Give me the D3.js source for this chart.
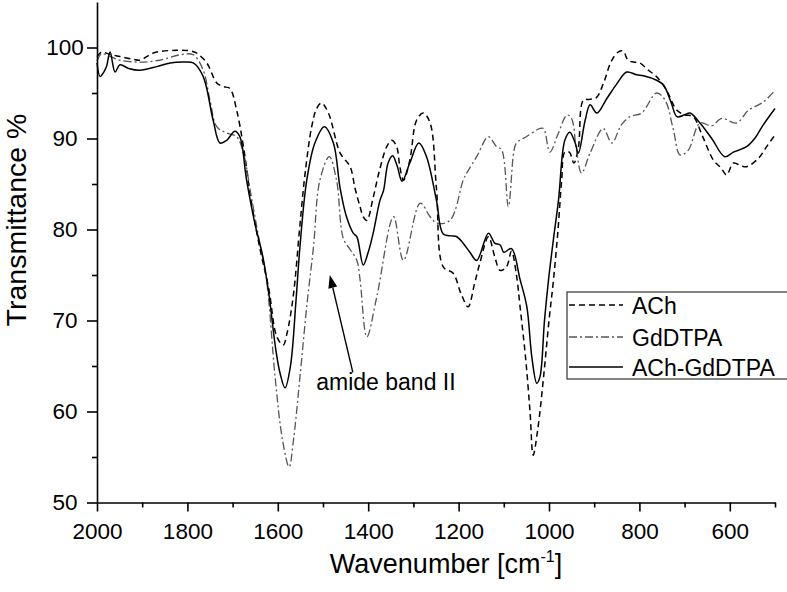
<!DOCTYPE html>
<html>
<head>
<meta charset="utf-8">
<script src="https://cdn.jsdelivr.net/npm/d3@7"></script>
<style>
  body { margin: 0; background: #fff; }
  svg text { font-family: Arial, "Liberation Sans", sans-serif; fill: #000; }
</style>
</head>
<body>
<div class="chart"></div>
<script>
//Spectra (wavenumber in cm-1, transmittance in %)
var achWn = [2000,1990,1975,1949,1920,1905,1875,1824,1790,1780,1757,1735,1720,1706,1691,1676,1660,1640,1620,1602,1588,1580,1566,1551,1540,1525,1514,1503,1488,1462,1440,1429,1418,1411,1403,1389,1375,1359,1348,1337,1330,1322,1308,1293,1278,1263,1249,1234,1212,1195,1179,1165,1153,1134,1120,1108,1094,1083,1072,1064,1052,1042,1035,1025,1012,1000,990,980,972,965,955,945,935,924,910,895,880,862,847,836,825,813,799,780,762,740,717,700,681,660,636,620,607,592,575,563,537,520,500];
var achT = [99.0,99.5,99.3,99.0,98.7,98.6,99.4,99.7,99.6,99.4,98.3,96.1,95.7,95.5,93.1,89.1,83.5,78,73.5,68.2,67.3,68.5,72.6,80.5,86,91.3,93.3,93.9,92.8,88.4,86.9,84.5,82.5,81.4,81.0,83.5,86.5,89.1,89.8,89.1,86.9,85.4,87.6,92.0,92.8,91.7,84.5,75.9,75.2,73,71.5,74,76.3,79.2,77,75.5,75.9,77.6,75,71.5,66,60,55.2,58,63.8,70,74.5,80,85.4,88.5,88.5,87.3,89,94.2,94.3,94.5,96,98.5,99.5,99.6,98.6,98.4,98.3,97.5,96.8,95.3,93.1,92.6,92.4,90.2,87.6,86.8,86.0,87.3,87,86.9,87.8,89,90.4];

var gdWn = [2000,1990,1970,1949,1905,1861,1816,1787,1765,1750,1735,1713,1691,1676,1660,1640,1625,1606,1590,1575,1565,1551,1535,1521,1507,1486,1470,1455,1440,1425,1418,1403,1381,1344,1322,1285,1263,1248,1219,1190,1182,1160,1134,1116,1105,1090,1078,1072,1050,1020,1012,998,980,960,950,940,928,909,880,861,840,821,795,762,743,725,710,692,666,640,618,585,559,526,500];
var gdT = [98.5,99.3,99.0,98.6,98.4,98.6,99.2,99.2,97.5,94.2,91.3,90.6,90.2,88.4,84,78.5,74.5,63.8,57,53.9,57,63.8,72,78.1,85.4,88.0,85.4,79,77.8,76.6,74.5,68.2,72.6,81.4,76.6,82.9,81.4,80.7,81.0,85.4,86.2,88,90.2,89.1,88.8,82.5,88.5,89.5,90.2,91.1,91.1,88.5,90.5,92.6,92.2,89,86.2,88.4,91.1,89.5,91.5,92.4,92.8,95,94.2,91,88.2,88.7,91.7,91.4,92.2,91.7,93.1,94,95.3];

var mixWn = [2000,1993,1985,1979,1971,1960,1949,1930,1905,1868,1838,1809,1787,1765,1743,1728,1713,1695,1684,1669,1650,1633,1620,1605,1595,1584,1572,1560,1551,1536,1518,1497,1477,1462,1448,1433,1425,1411,1400,1389,1374,1366,1356,1346,1336,1325,1308,1288,1271,1249,1234,1215,1204,1190,1175,1160,1134,1120,1108,1100,1083,1064,1049,1038,1027,1020,1010,1001,990,979,965,954,942,935,920,909,894,872,850,828,806,791,762,747,730,717,700,688,666,640,611,592,563,545,526,500];
var mixT = [98.3,96.8,97.3,97.9,99.5,97.3,98.1,97.7,97.5,97.9,98.3,98.4,98.3,96.8,92.0,89.5,89.8,90.8,90.2,85.4,80.5,77,73,67,64.2,62.6,65,72,78.1,85.4,89.5,91.3,89.5,84.5,81.4,79.6,79.2,76.1,77.5,79.6,83.2,84.3,87.3,88.1,87,85.3,87.3,89.5,88.0,83.2,79.5,79.3,79.2,78.5,77.5,76.6,79.6,78.5,78.3,77.5,77.9,74.5,71.5,66,63.1,63.8,70,74.5,79,83.2,89.8,90.7,89.5,88.4,92,93.7,92.8,94.4,96,97.3,97.0,96.9,96.4,95.9,94,92.4,92.6,92.8,91.7,90,88.0,88.5,89.1,90,91.5,93.3];

var seriesNames = ["ACh", "GdDTPA", "ACh-GdDTPA"];
var xMajor = [2000,1800,1600,1400,1200,1000,800,600];
var xMinor = [1900,1700,1500,1300,1100,900,700,500];
var yMajor = [50,60,70,80,90,100];
var yMinor = [55,65,75,85,95];

function init(){
  var w = 787;
  var h = 592;

  var svg = d3.select(".chart")
              .append("svg")
              .attr("width", w)
              .attr("height", h);

  var x = d3.scaleLinear().domain([2000, 500]).range([97, 775]);
  var y = d3.scaleLinear().domain([50, 105]).range([502.5, 2]);

  //Line styles for each series
  var styles = [
    {stroke: "#000", width: 1.5, dash: "6,4"},
    {stroke: "#555", width: 1.3, dash: "8,3,2,3"},
    {stroke: "#000", width: 1.5, dash: null}
  ];

  var series = [
    achWn.map(function(d, i){ return [d, achT[i]]; }),
    gdWn.map(function(d, i){ return [d, gdT[i]]; }),
    mixWn.map(function(d, i){ return [d, mixT[i]]; })
  ];

  var line = d3.line()
               .x(function(d){ return x(d[0]); })
               .y(function(d){ return y(d[1]); })
               .curve(d3.curveCatmullRom.alpha(0.5));

  svg.selectAll("path.spectrum")
     .data(series)
     .enter()
     .append("path")
     .attr("class", "spectrum")
     .attr("d", line)
     .attr("fill", "none")
     .attr("stroke", function(d, i){ return styles[i].stroke; })
     .attr("stroke-width", function(d, i){ return styles[i].width; })
     .attr("stroke-dasharray", function(d, i){ return styles[i].dash; });

  //Axes, major ticks with labels and short minor ticks
  var xAxis = svg.append("g")
                 .attr("transform", "translate(0," + y(50) + ")")
                 .call(d3.axisBottom(x).tickValues(xMajor).tickSize(9).tickSizeOuter(0).tickFormat(d3.format("d")));
  xAxis.selectAll("text").attr("y", 21).style("font-size", "22.5px");
  svg.append("g")
     .attr("transform", "translate(0," + y(50) + ")")
     .call(d3.axisBottom(x).tickValues(xMinor).tickSize(5).tickSizeOuter(0).tickFormat(""))
     .select(".domain").remove();

  var yAxis = svg.append("g")
                 .attr("transform", "translate(" + x(2000) + ",0)")
                 .call(d3.axisLeft(y).tickValues(yMajor).tickSize(10).tickSizeOuter(0));
  yAxis.selectAll("text")
       .attr("x", -32)
       .attr("text-anchor", "middle")
       .style("font-size", "22.5px");
  svg.append("g")
     .attr("transform", "translate(" + x(2000) + ",0)")
     .call(d3.axisLeft(y).tickValues(yMinor).tickSize(5).tickSizeOuter(0).tickFormat(""))
     .select(".domain").remove();

  svg.selectAll(".domain, .tick line").attr("stroke", "#000").attr("stroke-width", 1.6);

  //Axis titles
  var xt = svg.append("text")
              .attr("x", 446)
              .attr("y", 573)
              .attr("text-anchor", "middle")
              .style("font-size", "27px");
  xt.append("tspan").text("Wavenumber [cm");
  xt.append("tspan").attr("dy", -11).style("font-size", "16px").text("-1");
  xt.append("tspan").attr("dy", 11).text("]");

  svg.append("text")
     .attr("transform", "translate(26,220) rotate(-90)")
     .attr("text-anchor", "middle")
     .style("font-size", "28.5px")
     .text("Transmittance %");

  //Annotation arrow pointing at the amide band II
  var tip = [x(1485), y(75)];
  var tail = [x(1434), y(64.3)];
  var ang = Math.atan2(tip[1] - tail[1], tip[0] - tail[0]);
  var hl = 13, hw = 4.5;
  var base = [tip[0] - hl * Math.cos(ang), tip[1] - hl * Math.sin(ang)];
  svg.append("line")
     .attr("x1", tail[0]).attr("y1", tail[1])
     .attr("x2", base[0]).attr("y2", base[1])
     .attr("stroke", "#000").attr("stroke-width", 1.4);
  svg.append("path")
     .attr("d", "M" + tip[0] + "," + tip[1] +
                "L" + (base[0] + hw * Math.sin(ang)) + "," + (base[1] - hw * Math.cos(ang)) +
                "L" + (base[0] - hw * Math.sin(ang)) + "," + (base[1] + hw * Math.cos(ang)) + "Z")
     .attr("fill", "#000");
  svg.append("text")
     .attr("x", x(1515))
     .attr("y", y(62.4))
     .style("font-size", "23px")
     .text("amide band II");

  //Legend
  var legend = svg.append("g").attr("transform", "translate(567,292)");
  legend.append("rect")
        .attr("width", 240)
        .attr("height", 87)
        .attr("fill", "#fff")
        .attr("stroke", "#333")
        .attr("stroke-width", 1.2);
  var rows = [13, 45, 75];
  seriesNames.forEach(function(name, i){
    legend.append("line")
          .attr("x1", 2).attr("x2", 56)
          .attr("y1", rows[i]).attr("y2", rows[i])
          .attr("stroke", styles[i].stroke)
          .attr("stroke-width", styles[i].width)
          .attr("stroke-dasharray", styles[i].dash);
    legend.append("text")
          .attr("x", 65)
          .attr("y", rows[i] + 9)
          .style("font-size", "23px")
          .text(name);
  });
}

window.onload = init;
</script>
</body>
</html>
